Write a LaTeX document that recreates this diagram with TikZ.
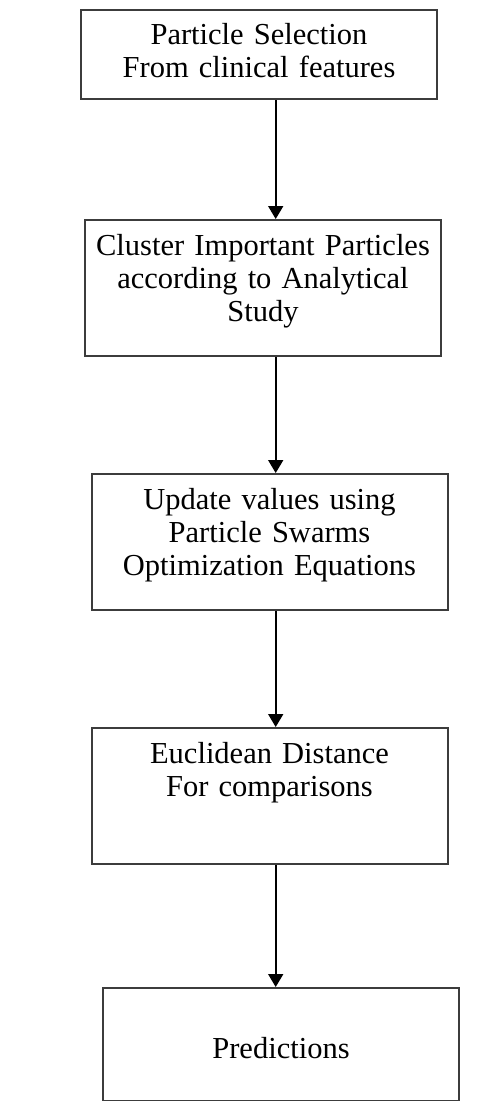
\documentclass[tikz,border=0pt]{standalone}
\usepackage{fontspec}
\setmainfont{Liberation Serif}
\definecolor{boxgray}{RGB}{60, 60, 60}
\usetikzlibrary{arrows.meta, positioning}

\begin{document}
\begin{tikzpicture}[x=1pt, y=-1pt,
  stepbox/.style={draw=boxgray, line width=2pt, anchor=north, inner xsep=8pt, inner ysep=0pt, text width=340pt, align=center, font=\fontsize{30.5}{33}\selectfont, text height=35pt, text depth=101pt},
  flow/.style={-{Triangle[width=15pt, length=13pt]}, line width=1.8pt}
]
  \useasboundingbox (0,0) rectangle (481,1101);
  \node[stepbox, text height=34pt, text depth=55pt] (select) at (259, 9) {Particle Selection\\From clinical features};
  \node[stepbox] (cluster) at (263, 219) {Cluster Important Particles\\according to Analytical\\Study};
  \node[stepbox] (update) at (269.5, 473) {Update values using\\Particle Swarms\\Optimization Equations};
  \node[stepbox] (dist) at (269.5, 727) {Euclidean Distance\\For comparisons};
  \node[stepbox, text height=70pt, text depth=43pt] (predict) at (281, 987) {Predictions};
  % arrows all run down one vertical line
  \coordinate (spine) at (275.7, 0);
  \draw[flow] (select.south -| spine) -- (cluster.north -| spine);
  \draw[flow] (cluster.south -| spine) -- (update.north -| spine);
  \draw[flow] (update.south -| spine) -- (dist.north -| spine);
  \draw[flow] (dist.south -| spine) -- (predict.north -| spine);
\end{tikzpicture}
\end{document}
